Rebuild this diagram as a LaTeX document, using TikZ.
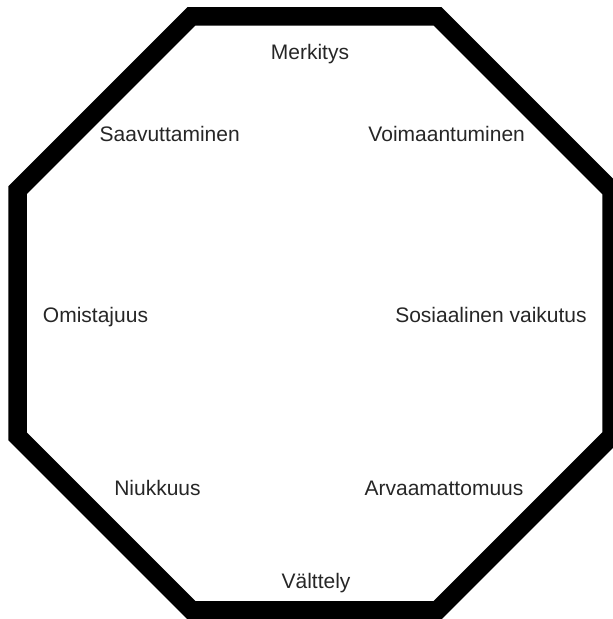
\documentclass[tikz,border=0pt]{standalone}
\usepackage{fontspec}
\setmainfont{Liberation Sans}
\begin{document}
\begin{tikzpicture}[x=1pt, y=-1pt, font=\fontsize{21}{25}\selectfont,
      frame/.style={line width=18.5pt, black, line join=miter},
      word/.style={anchor=base, inner sep=0pt, text=black!85}]
    \clip (0,0) rectangle (613,619);
    \draw[frame] (191.5,16.25) -- (437.5,16.25) -- (611.5,190.25) -- (611.5,436.25)
      -- (437.5,610.25) -- (191.5,610.25) -- (17.5,436.25) -- (17.5,190.25) -- cycle;
    \node[word] (merkitys) at (310,59.5) {Merkitys};
    \node[word] (saavuttaminen) at (169.7,141) {Saavuttaminen};
    \node[word] (voimaantuminen) at (446.7,141) {Voimaantuminen};
    \node[word] (omistajuus) at (95.5,322) {Omistajuus};
    \node[word] (sosiaalinen) at (491,322.5) {Sosiaalinen vaikutus};
    \node[word] (niukkuus) at (157.5,495.5) {Niukkuus};
    \node[word] (arvaamattomuus) at (444,495.5) {Arvaamattomuus};
    \node[word] (valttely) at (316,588.5) {Välttely};
  \end{tikzpicture}
\end{document}
